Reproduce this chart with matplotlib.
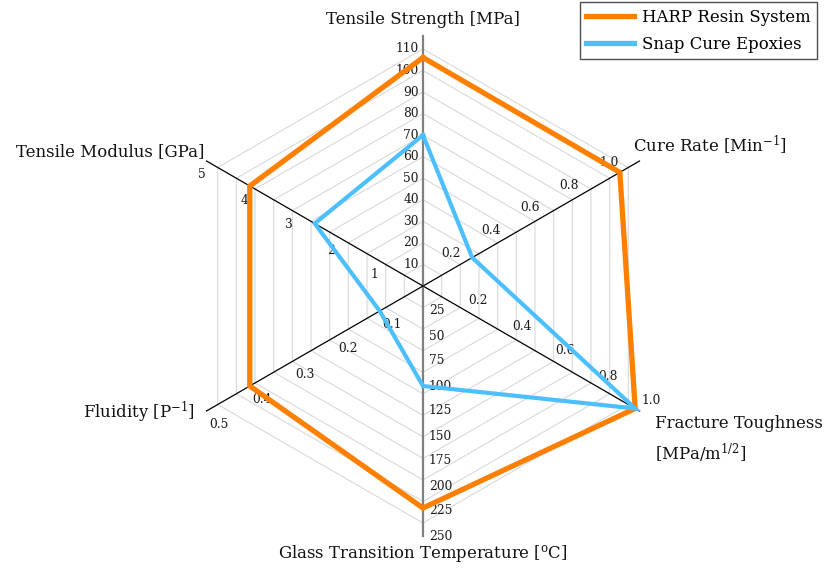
import matplotlib
matplotlib.use("Agg")
import numpy as np
import matplotlib.pyplot as plt

plt.rcParams['font.family'] = ['DejaVu Serif']
plt.rcParams['mathtext.fontset'] = 'dejavuserif'

# ---------------- data ----------------
categories = [
    "Tensile Strength [MPa]",
    "Cure Rate [Min$^{-1}$]",
    "Fracture Toughness\n[MPa/m$^{1/2}$]",
    "Glass Transition Temperature [$^{\\mathrm{o}}$C]",
    "Fluidity [P$^{-1}$]",
    "Tensile Modulus [GPa]",
]
angles_deg = [90, 30, -30, -90, 210, 150]
axis_max = [116, 1.1, 1.0, 250, 0.5, 5]          # value reached at the end of each spoke

series_names = ["HARP Resin System", "Snap Cure Epoxies"]
harp = [106, 1.0, 0.98, 222, 0.4, 4.0]
snap = [70, 0.25, 0.98, 100, 0.1, 2.5]

tick_values = [
    [10, 20, 30, 40, 50, 60, 70, 80, 90, 100, 110],
    [0.2, 0.4, 0.6, 0.8, 1.0],
    [0.2, 0.4, 0.6, 0.8, 1.0],
    [25, 50, 75, 100, 125, 150, 175, 200, 225, 250],
    [0.1, 0.2, 0.3, 0.4, 0.5],
    [1, 2, 3, 4, 5],
]
tick_labels = [
    ["10", "20", "30", "40", "50", "60", "70", "80", "90", "100", "110"],
    ["0.2", "0.4", "0.6", "0.8", "1.0"],
    ["0.2", "0.4", "0.6", "0.8", "1.0"],
    ["25", "50", "75", "100", "125", "150", "175", "200", "225", "250"],
    ["0.1", "0.2", "0.3", "0.4", "0.5"],
    ["1", "2", "3", "4", "5"],
]

# ---------------- layout / style ----------------
W, H = 828, 569
CX, CY = 423, 286      # centre of the radar, pixels from top-left
R = 250                # spoke length in pixels

orange = "#FF8000"
blue = "#4CBFFF"

fig = plt.figure(figsize=(W / 100, H / 100), dpi=100)
ax = fig.add_axes([0, 0, 1, 1])
ax.set_xlim(-CX / R, (W - CX) / R)
ax.set_ylim(-(H - CY) / R, CY / R)
ax.axis('off')

theta = np.deg2rad(angles_deg)

def to_xy(values):
    r = np.array(values, dtype=float) / np.array(axis_max, dtype=float)
    return r * np.cos(theta), r * np.sin(theta)

# hexagonal grid at tensile-strength tick levels
for t in tick_values[0]:
    rr = t / axis_max[0]
    gx = np.append(rr * np.cos(theta), rr * np.cos(theta[0]))
    gy = np.append(rr * np.sin(theta), rr * np.sin(theta[0]))
    ax.plot(gx, gy, color="#D9D9D9", lw=0.8, zorder=1)

# spokes
for i, a in enumerate(theta):
    vertical = angles_deg[i] in (90, -90)
    ax.plot([0, np.cos(a)], [0, np.sin(a)],
            color="#808080" if vertical else "black",
            lw=1.6 if vertical else 0.9, zorder=2)

# tick labels (offset in pixels, y up)
tick_style = [
    dict(off=(-4, 0), ha="right"),
    dict(off=(-11, 10), ha="center"),
    dict(off=(12, 10), ha="center"),
    dict(off=(6, 0), ha="left"),
    dict(off=(12, -13), ha="center"),
    dict(off=(-5, -14), ha="center"),
]
for i, a in enumerate(theta):
    for v, lab in zip(tick_values[i], tick_labels[i]):
        rr = v / axis_max[i]
        ax.annotate(lab, (rr * np.cos(a), rr * np.sin(a)),
                    xytext=tick_style[i]["off"], textcoords="offset pixels",
                    ha=tick_style[i]["ha"], va="center",
                    fontsize=8.8, color="#1a1a1a", zorder=3)

# category labels
cat_style = [
    dict(off=(0, 17), ha="center"),
    dict(off=(-7, 16), ha="left"),
    dict(off=(15, -29), ha="left"),
    dict(off=(0, -18), ha="center"),
    dict(off=(-12, -1), ha="right"),
    dict(off=(-2, 9), ha="right"),
]
for i, a in enumerate(theta):
    ax.annotate(categories[i], (np.cos(a), np.sin(a)),
                xytext=cat_style[i]["off"], textcoords="offset pixels",
                ha=cat_style[i]["ha"], va="center", fontsize=11.9,
                linespacing=1.55, color="#111111", zorder=3)

# data series
for vals, col, lw, name in [(harp, orange, 3.8, series_names[0]),
                             (snap, blue, 3.0, series_names[1])]:
    x, y = to_xy(vals)
    ax.plot(np.append(x, x[0]), np.append(y, y[0]), color=col, lw=lw,
            solid_joinstyle="miter", label=name, zorder=5)

leg = ax.legend(loc="upper right", bbox_to_anchor=(817 / W, 1 - 2 / H),
                bbox_transform=fig.transFigure, fontsize=11.9,
                frameon=True, fancybox=False, handlelength=2.9,
                handletextpad=0.45, borderpad=0.4, labelspacing=0.6,
                borderaxespad=0)
leg.get_frame().set_edgecolor("#222222")
leg.get_frame().set_linewidth(1.0)
for h in leg.get_lines():
    h.set_linewidth(3.8)

fig.savefig("out.png", dpi=100)
